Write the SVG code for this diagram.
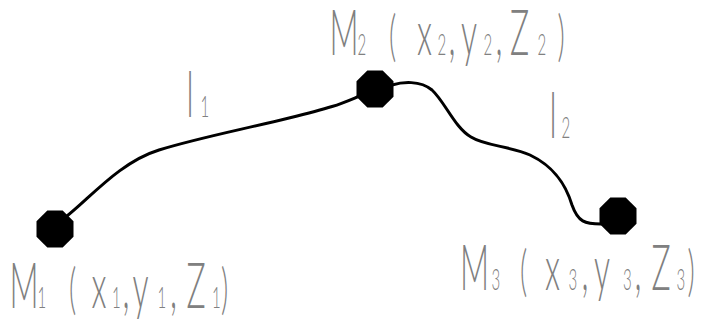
<svg xmlns="http://www.w3.org/2000/svg" xmlns:xlink="http://www.w3.org/1999/xlink" width="702" height="323" viewBox="0 0 702 323">
<style>
.lbl{font-family:"Lato","DejaVu Sans",sans-serif;font-weight:300;fill:#808080;font-size:64px}
.sub{font-size:30px}
.par{font-size:56px}
.curve{fill:none;stroke:#000;stroke-width:3;stroke-linecap:round}
.node{fill:#000}
</style>
<defs>
<polygon id="oct" points="7.7,-18.5 18.5,-7.7 18.5,7.7 7.7,18.5 -7.7,18.5 -18.5,7.7 -18.5,-7.7 -7.7,-18.5"/>
<linearGradient id="dash" x1="0" x2="1" y1="0" y2="0"><stop offset="0" stop-color="#f0f0f0"/><stop offset="1" stop-color="#777"/></linearGradient>
</defs>
<rect width="702" height="323" fill="#fff"/>
<g id="connectors">
<path id="l1" class="curve" d="M67,216 C90,198 120,162 159,150 S240,130 289,118 S340,104 362,95"/>
<path id="l2" class="curve" d="M392,85 C402,82 420,80 432,90 C445,102 455,128 471,137 C485,146 510,146 530,155 C555,167 566,185 572,205 C578,222 585,224 601,224"/>
</g>
<g id="M1"><use xlink:href="#oct" class="node" x="55" y="229"/></g>
<g id="M2"><use xlink:href="#oct" class="node" x="375" y="89"/></g>
<g id="M3"><use xlink:href="#oct" class="node" x="618" y="216"/></g>
<g id="labels" transform="scale(0.5,1)">
<text id="label-M1" class="lbl" y="308"><tspan x="19">M</tspan><tspan class="sub" x="75">1</tspan><tspan class="par" x="138">(</tspan><tspan x="183">x</tspan><tspan class="sub" x="224">1</tspan><tspan x="245">,</tspan><tspan x="265">y</tspan><tspan class="sub" x="315">1</tspan><tspan x="340">,</tspan><tspan x="373">Z</tspan><tspan class="sub" x="424">1</tspan><tspan class="par" x="442">)</tspan></text>
<text id="label-M2" class="lbl" y="55"><tspan x="659">M</tspan><tspan class="sub" x="715">2</tspan><tspan class="par" x="778">(</tspan><tspan x="834">x</tspan><tspan class="sub" x="875">2</tspan><tspan x="897">,</tspan><tspan x="922">y</tspan><tspan class="sub" x="967">2</tspan><tspan x="991">,</tspan><tspan x="1020">Z</tspan><tspan class="sub" x="1075">2</tspan><tspan class="par" x="1115">)</tspan></text>
<text id="label-M3" class="lbl" y="290"><tspan x="920">M</tspan><tspan class="sub" x="983">3</tspan><tspan class="par" x="1040">(</tspan><tspan x="1090">x</tspan><tspan class="sub" x="1137">3</tspan><tspan x="1163">,</tspan><tspan x="1188">y</tspan><tspan class="sub" x="1246">3</tspan><tspan x="1269">,</tspan><tspan x="1303">Z</tspan><tspan class="sub" x="1353">3</tspan><tspan class="par" x="1375">)</tspan></text>
<text id="label-l1" class="lbl" y="117"><tspan x="373">l</tspan><tspan class="sub" x="401">1</tspan></text>
<text id="label-l2" class="lbl" y="138"><tspan x="1099">l</tspan><tspan class="sub" x="1123">2</tspan></text>
</g>
<line x1="663" y1="109" x2="702" y2="109" stroke="url(#dash)" stroke-width="2"/>
</svg>
